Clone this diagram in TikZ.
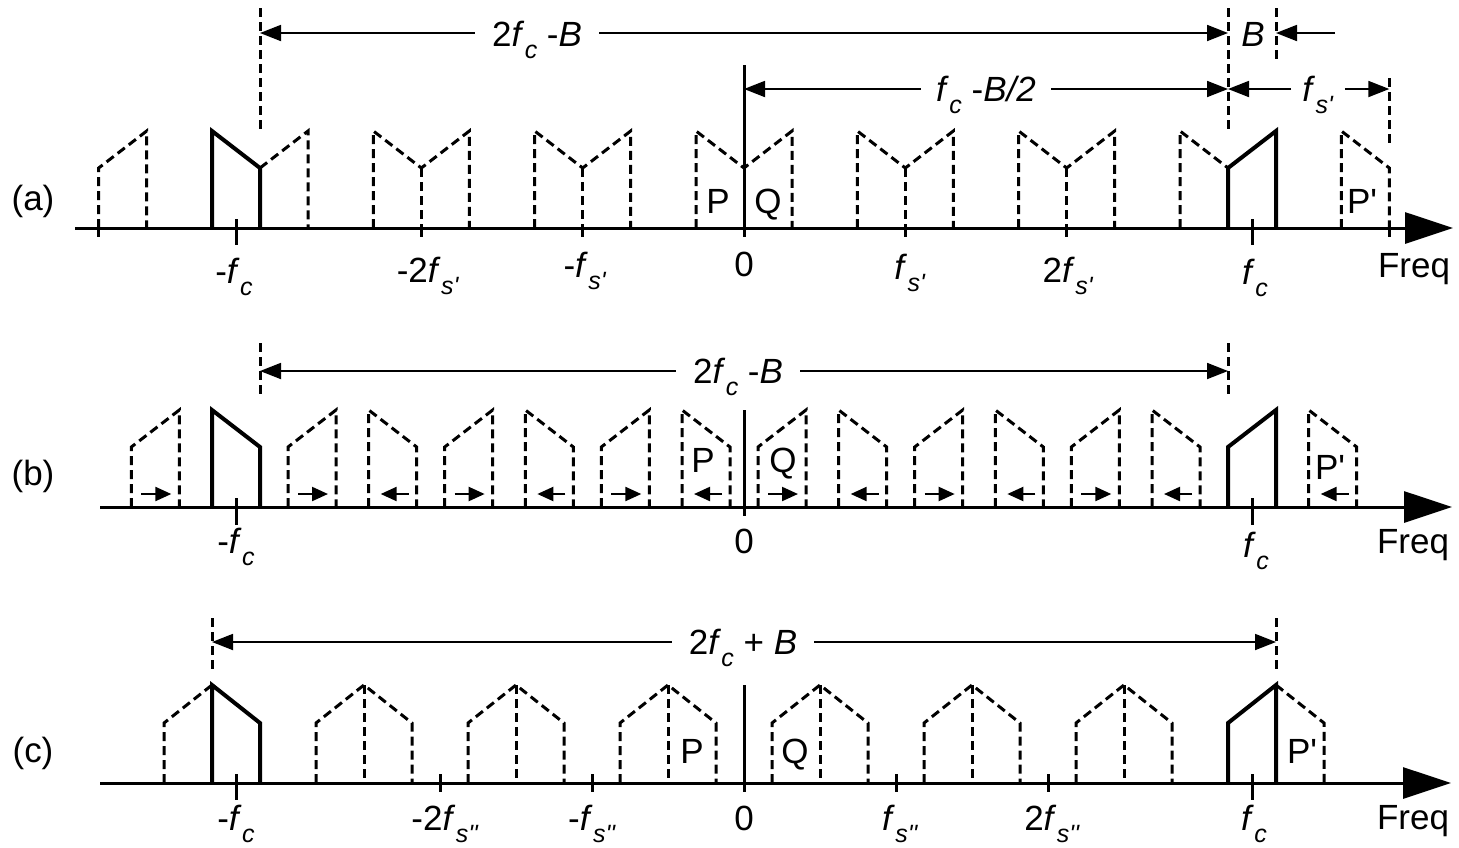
\documentclass[tikz,border=0pt]{standalone}
\usepackage{fontspec}
\setmainfont{Liberation Sans}
\usetikzlibrary{arrows.meta}
\newcommand{\subf}{\fontsize{25}{25}\selectfont}
\newcommand{\fsb}[1]{\textit{f}\kern0.5pt\raisebox{-12pt}{\subf\textit{#1}}}
\newcommand{\pr}{\textquotesingle}
\begin{document}
\begin{tikzpicture}[x=1pt,y=-1pt,
  lbl/.style={font=\fontsize{35}{35}\selectfont, inner sep=0pt, anchor=base},
  dlbl/.style={lbl, inner xsep=17pt},
  dsh/.style={line width=3pt, dash pattern=on 9pt off 5pt},
  band/.style={line width=4pt, line join=miter},
  ax/.style={line width=3pt, -{Triangle[length=48pt,width=31pt]}},
  tck/.style={line width=3pt},
  dim/.style={line width=1.8pt, -{Triangle[length=21pt,width=16pt]}},
  smallarr/.style={line width=2.2pt, -{Triangle[length=16pt,width=14pt]}},
]
\useasboundingbox (0,0) rectangle (1459,847);

% ================= (a) =================
\node[lbl] (la) at (33,210) {(a)};
\coordinate (aS) at (75,228);
\coordinate (aE) at (1453,228);
% replicas
\foreach \k in {-2,-1,0,1,2} {
  \pgfmathsetmacro\xc{744+\k*161.333}
  \draw[dsh] (\xc-48,228) -- (\xc-48,131) -- (\xc,168) -- (\xc+48,131) -- (\xc+48,228);
  \draw[dsh] (\xc,168) -- (\xc,228);
}
\foreach \k in {-4,-2,-1,1,2,4} {
  \pgfmathsetmacro\xc{744+\k*161.333}
  \draw[tck] (\xc,228) -- (\xc,237);
}
\draw[dsh] (98.67,228) -- (98.67,168) -- (146.67,131) -- (146.67,228);
\draw[dsh] (260,168) -- (308,131) -- (308,228);
\draw[dsh] (1180,228) -- (1180,131) -- (1228,168);
\draw[dsh] (1341.33,228) -- (1341.33,131) -- (1389.33,168) -- (1389.33,228);
\draw[band] (212,228) -- (212,131) -- (260,168) -- (260,228);
\draw[band] (1228,228) -- (1228,168) -- (1276,131) -- (1276,228);
\draw[ax] (aS) -- (aE);
\draw[tck] (236,219) -- (236,245);
\draw[tck] (1252,219) -- (1252,245);
\draw[tck] (744,65) -- (744,237);
% labels
\node[lbl] (aP) at (718,213) {P};
\node[lbl] (aQ) at (768,213) {Q};
\node[lbl] (aPp) at (1362,213) {P\pr};
\node[lbl] (t1) at (234,283) {-\fsb{c}};
\node[lbl] (t2) at (428,282) {-2\fsb{s\pr}};
\node[lbl] (t3) at (585,277) {-\fsb{s\pr}};
\node[lbl] (t4) at (744,276) {0};
\node[lbl] (t5) at (910,279) {\fsb{s\pr}};
\node[lbl] (t6) at (1068,282) {2\fsb{s\pr}};
\node[lbl] (t7) at (1255,284) {\fsb{c}};
\node[lbl] (t8) at (1414,277) {Freq};
% dimensions
\draw[dsh] (260,8) -- (260,133);
\draw[dsh] (1228,8) -- (1228,133);
\draw[dsh] (1276,8) -- (1276,62);
\draw[dsh] (1389.33,78) -- (1389.33,143);
\coordinate (d1) at (260,33);
\coordinate (d2) at (1228,33);
\coordinate (bR) at (1335,33);
\coordinate (bL) at (1276,33);
\coordinate (d3) at (744,89);
\coordinate (d4) at (1228,89);
\coordinate (d5) at (1389.33,89);
\node[dlbl] (L1) at (537,46) {2\fsb{c} -\textit{B}};
\draw[dim] (L1.west |- d1) -- (d1);
\draw[dim] (L1.east |- d2) -- (d2);
\node[lbl] (LB) at (1253,46) {\textit{B}};
\draw[dim] (bR) -- (bL);
\node[dlbl, inner xsep=15pt] (L2) at (986,101) {\fsb{c} -\textit{B/2}};
\draw[dim] (L2.west |- d3) -- (d3);
\draw[dim] (L2.east |- d4) -- (d4);
\node[dlbl, inner xsep=11pt] (L3) at (1318,101) {\fsb{s\pr}};
\draw[dim] (L3.west |- d4) -- (d4);
\draw[dim] (L3.east |- d5) -- (d5);

% ================= (b) =================
\node[lbl] (lb) at (33,485) {(b)};
\coordinate (bS) at (100,507);
\coordinate (bE) at (1452,507);
\foreach \x in {131.33,288,444.67,601.33,758,914.67,1071.33} {
  \draw[dsh] (\x,507) -- (\x,447) -- (\x+48,410) -- (\x+48,507);
  \draw[smallarr] (\x+10,494) -- (\x+40,494);
}
\foreach \x in {368.67,525.33,682,838.67,995.33,1152,1308.67} {
  \draw[dsh] (\x,507) -- (\x,410) -- (\x+48,447) -- (\x+48,507);
  \draw[smallarr] (\x+40,494) -- (\x+12,494);
}
\draw[band] (212,507) -- (212,410) -- (260,447) -- (260,507);
\draw[band] (1228,507) -- (1228,447) -- (1276,410) -- (1276,507);
\draw[ax] (bS) -- (bE);
\draw[tck] (236,498) -- (236,525);
\draw[tck] (1252,498) -- (1252,525);
\draw[tck] (744,410) -- (744,516);
\node[lbl] (bP) at (703,472) {P};
\node[lbl] (bQ) at (783,472) {Q};
\node[lbl] (bPp) at (1330,479) {P\pr};
\node[lbl] (u1) at (236,553) {-\fsb{c}};
\node[lbl] (u2) at (744,553) {0};
\node[lbl] (u3) at (1256,557) {\fsb{c}};
\node[lbl] (u4) at (1413,553) {Freq};
\draw[dsh] (260,343) -- (260,394);
\draw[dsh] (1228,343) -- (1228,394);
\coordinate (e1) at (260,371);
\coordinate (e2) at (1228,371);
\node[dlbl] (L4) at (738,383) {2\fsb{c} -\textit{B}};
\draw[dim] (L4.west |- e1) -- (e1);
\draw[dim] (L4.east |- e2) -- (e2);

% ================= (c) =================
\node[lbl] (lc) at (33,762) {(c)};
\coordinate (cS) at (100,783);
\coordinate (cE) at (1451,783);
\foreach \k in {1,...,6} {
  \pgfmathsetmacro\p{212+\k*152}
  \draw[dsh] (\p-48,783) -- (\p-48,723) -- (\p,685) -- (\p+48,723) -- (\p+48,783);
  \draw[dsh] (\p,685) -- (\p,783);
}
\draw[dsh] (164,783) -- (164,723) -- (212,685);
\draw[dsh] (1276,685) -- (1324,723) -- (1324,783);
\draw[band] (212,783) -- (212,685) -- (260,723) -- (260,783);
\draw[band] (1228,783) -- (1228,723) -- (1276,685) -- (1276,783);
\draw[ax] (cS) -- (cE);
\foreach \k in {-2,-1,1,2} {
  \pgfmathsetmacro\xc{744+\k*152}
  \draw[tck] (\xc,774) -- (\xc,792);
}
\draw[tck] (236,774) -- (236,800);
\draw[tck] (1252,774) -- (1252,800);
\draw[tck] (744,685) -- (744,792);
\node[lbl] (cP) at (692,763) {P};
\node[lbl] (cQ) at (795,763) {Q};
\node[lbl] (cPp) at (1302,763) {P\pr};
\node[lbl] (v1) at (236,830) {-\fsb{c}};
\node[lbl] (v2) at (445,830) {-2\fsb{s\pr\pr}};
\node[lbl] (v3) at (592,830) {-\fsb{s\pr\pr}};
\node[lbl] (v4) at (744,830) {0};
\node[lbl] (v5) at (900,830) {\fsb{s\pr\pr}};
\node[lbl] (v6) at (1052,830) {2\fsb{s\pr\pr}};
\node[lbl] (v7) at (1254,830) {\fsb{c}};
\node[lbl] (v8) at (1413,829) {Freq};
\draw[dsh] (212,618) -- (212,672);
\draw[dsh] (1276,618) -- (1276,672);
\coordinate (g1) at (212,642);
\coordinate (g2) at (1276,642);
\node[dlbl] (L5) at (743,654) {2\fsb{c} + \textit{B}};
\draw[dim] (L5.west |- g1) -- (g1);
\draw[dim] (L5.east |- g2) -- (g2);
\end{tikzpicture}
\end{document}
